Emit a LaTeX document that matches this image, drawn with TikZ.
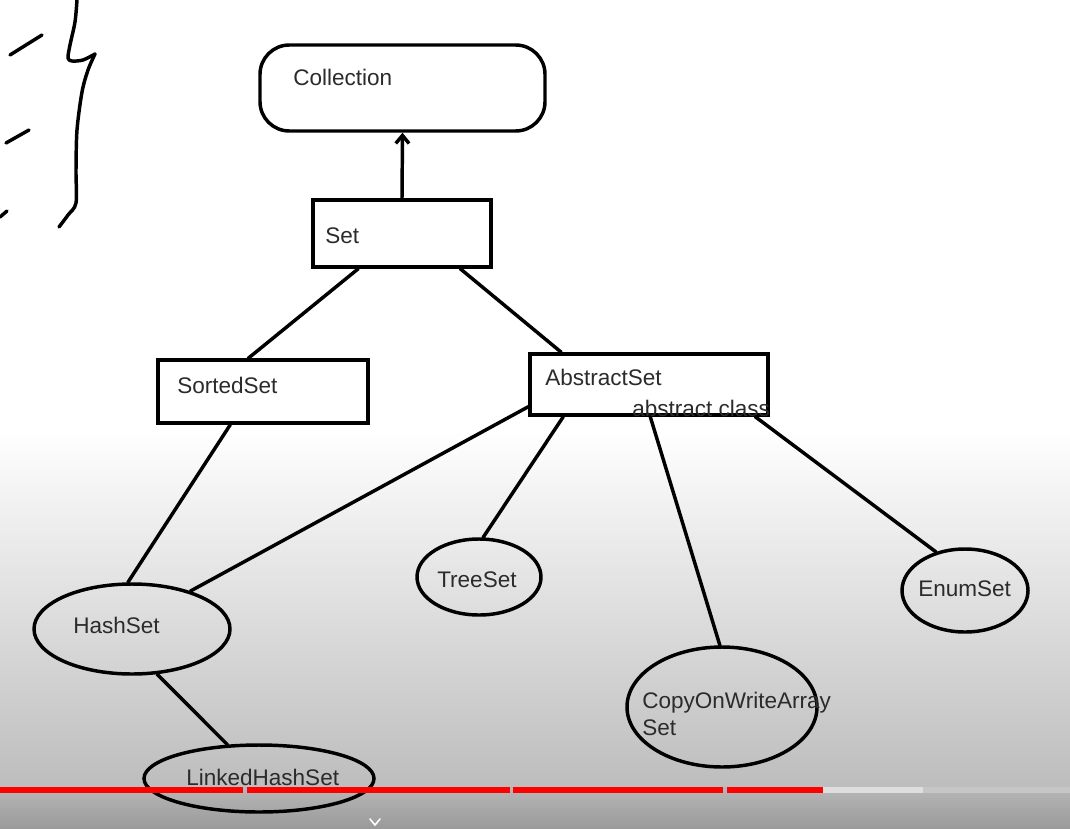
\documentclass[tikz,border=0pt]{standalone}
\usepackage{fontspec}
\setmainfont{Liberation Sans}
\usetikzlibrary{arrows.meta,shapes.geometric,calc}
\definecolor{txt}{HTML}{2B2B2B}
\definecolor{barred}{HTML}{FF0000}
\definecolor{barlight}{HTML}{DEDEDE}
\definecolor{bargray}{HTML}{C6C6C6}
\definecolor{bgA}{HTML}{BDBDBD}
\definecolor{bgB}{HTML}{B7B7B7}
\definecolor{bgC}{HTML}{9A9A9A}
\begin{document}
\begin{tikzpicture}[x=0.75pt,y=-0.75pt,
  edge/.style={line width=2.6pt, black, line cap=round},
  scribble/.style={line width=2.6pt, black, line cap=round, line join=round},
  box/.style={draw, line width=2.6pt, rectangle, inner sep=0pt, fill=white},
  oval/.style={draw, ellipse, line width=2.6pt, inner sep=0pt},
  lbl/.style={anchor=base west, inner sep=0pt, text=txt, font=\fontsize{16.9}{20}\selectfont}]
\useasboundingbox (0,0) rectangle (1070,828);
% background
\fill[white] (0,0) rectangle (1070,828);
\shade[top color=white, bottom color=bgA] (0,430) rectangle (1070,787);
\shade[top color=bgB, bottom color=bgC] (0,787) rectangle (1070,828);

% scribbles at top left
\draw[scribble] (10,55) -- (42,35);
\draw[scribble] (6,143) -- (29,130);
\draw[scribble] (0,217) -- (7,211);
\draw[scribble] plot[smooth] coordinates {(77,0)(75,22)(70,45)(68,58)(72,61)(83,60)(95,54)};
\draw[scribble] plot[smooth] coordinates {(95,54)(88,70)(82,92)(77,130)(76,170)(76,203)(68,215)(59,227)};

% shapes
\node[box, rounded corners=22pt, minimum width=213.75pt, minimum height=64.5pt] (collection) at (402.5,88) {};
\node[box, minimum width=133.5pt, minimum height=50.25pt] (set) at (402,233.5) {};
\node[box, minimum width=157.5pt, minimum height=47.25pt] (sorted) at (263,391.5) {};
\node[box, minimum width=178.5pt, minimum height=45.75pt] (abstract) at (649,384.5) {};
\node[oval, minimum width=147pt, minimum height=67.5pt] (hash) at (132,629) {};
\node[oval, minimum width=172.5pt, minimum height=50.25pt] (linked) at (259,778.5) {};
\node[oval, minimum width=93pt, minimum height=57pt] (tree) at (479,577) {};
\node[oval, minimum width=94.5pt, minimum height=62.25pt] (enum) at (965,590.5) {};
\node[oval, minimum width=142.5pt, minimum height=90pt] (cow) at (722,707) {};

% labels
\node[lbl] (collectionT) at (293,85) {Collection};
\node[lbl] (setT) at (325,243) {Set};
\node[lbl] (sortedT) at (177,393) {SortedSet};
\node[lbl] (abstractT) at (545,385) {AbstractSet};
\node[lbl] (abstractC) at (632,416) {abstract class};
\node[lbl] (hashT) at (73,633) {HashSet};
\node[lbl] (treeT) at (437,587) {TreeSet};
\node[lbl] (enumT) at (918,596) {EnumSet};
\node[lbl] (cowT1) at (642,708) {CopyOnWriteArray};
\node[lbl] (cowT2) at (642,735) {Set};
\node[lbl] (linkedT) at (186,785) {LinkedHashSet};

% connectors
\draw[edge, -{Straight Barb[length=6pt,width=10pt]}] (set.north) -- (collection.south);
\draw[edge] ($(set.south west)+(47,0)$) -- ($(sorted.north west)+(92,0)$);
\draw[edge] ($(set.south west)+(149,0)$) -- ($(abstract.north west)+(33,0)$);
\draw[edge] ($(sorted.south west)+(74,0)$) -- (hash.95);
\draw[edge] ($(abstract.south west)+(0,-10)$) -- (hash.33);
\draw[edge] ($(abstract.south west)+(35,0)$) -- (tree.84);
\draw[edge] ($(abstract.south west)+(122,0)$) -- (cow.92);
\draw[edge] ($(abstract.south west)+(227,0)$) -- (enum.127);
\draw[edge] (hash.-61) -- (linked.133);

% progress bar
\fill[barred] (0,787) rectangle (243,793);
\fill[barred] (247,787) rectangle (510,793);
\fill[barred] (513,787) rectangle (723,793);
\fill[barred] (727,787) rectangle (823,793);
\fill[barlight] (823,787) rectangle (923,793);
\fill[bargray] (923,787) rectangle (1070,793);
\draw[white, line width=1.2pt, line cap=round] (370,819) -- (375,825) -- (380,819);
\end{tikzpicture}
\end{document}
